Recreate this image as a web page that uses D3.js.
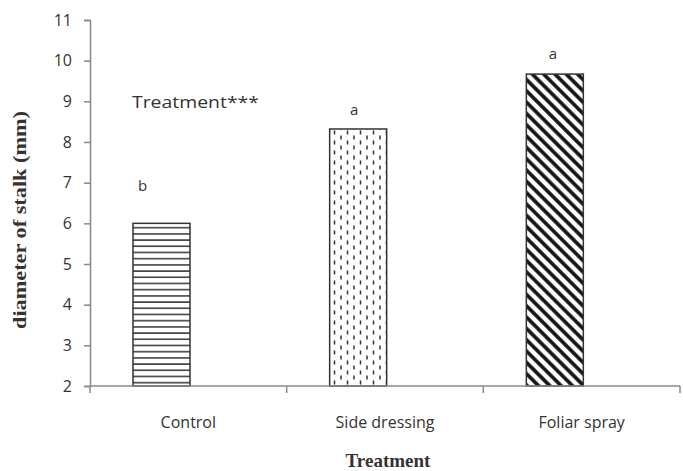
<!DOCTYPE html>
<html>
<head>
<meta charset="utf-8">
<script src="https://cdn.jsdelivr.net/npm/d3@7"></script>
<style>
  body { margin: 0; background: #fff; }
  text { fill: #333; }
</style>
</head>
<body>
<svg id="chart" width="683" height="471"></svg>
<script>
// Chart data
const treatments = ["Control", "Side dressing", "Foliar spray"];
const diameters = [6.0, 8.32, 9.67];
const groupLetters = ["b", "a", "a"];
const yTicks = [2, 3, 4, 5, 6, 7, 8, 9, 10, 11];

const svg = d3.select("#chart");

// Scales
const x = d3.scaleBand().domain(treatments).range([90, 680]).paddingInner(0).paddingOuter(0);
const y = d3.scaleLinear().domain([2, 11]).range([386, 20]);

// Fill patterns, one for each bar
const defs = svg.append("defs");

let p1 = defs.append("pattern").attr("id", "hlines")
	.attr("patternUnits", "userSpaceOnUse").attr("width", 8).attr("height", 6.2);
p1.append("rect").attr("width", 8).attr("height", 6.2).attr("fill", "#fff");
p1.append("line").attr("x1", 0).attr("x2", 8).attr("y1", 4.5).attr("y2", 4.5)
	.attr("stroke", "#333").attr("stroke-width", 1.5);

let p2 = defs.append("pattern").attr("id", "dashes")
	.attr("patternUnits", "userSpaceOnUse").attr("width", 13).attr("height", 10)
	.attr("x", 331);
p2.append("rect").attr("width", 13).attr("height", 10).attr("fill", "#fff");
p2.append("line").attr("x1", 3.5).attr("x2", 3.5).attr("y1", 0.5).attr("y2", 4.5)
	.attr("stroke", "#333").attr("stroke-width", 1.5);
p2.append("line").attr("x1", 10).attr("x2", 10).attr("y1", 5.5).attr("y2", 9.5)
	.attr("stroke", "#333").attr("stroke-width", 1.5);

let p3 = defs.append("pattern").attr("id", "diag")
	.attr("patternUnits", "userSpaceOnUse").attr("width", 8).attr("height", 8)
	.attr("patternTransform", "rotate(-45)");
p3.append("rect").attr("width", 8).attr("height", 8).attr("fill", "#fff");
p3.append("line").attr("x1", 4).attr("x2", 4).attr("y1", 0).attr("y2", 8)
	.attr("stroke", "#111").attr("stroke-width", 3.6);

const fills = ["url(#hlines)", "url(#dashes)", "url(#diag)"];

// Bars (shifted left inside their category, as in the original)
const barW = 57;
const barOffset = 43;
svg.selectAll("rect.bar").data(treatments).join("rect")
	.attr("class", "bar")
	.attr("x", d => x(d) + barOffset)
	.attr("width", barW)
	.attr("y", (d, i) => y(diameters[i]))
	.attr("height", (d, i) => y(2) - y(diameters[i]))
	.attr("fill", (d, i) => fills[i])
	.attr("stroke", "#333")
	.attr("stroke-width", 1.5);

// Significance letters above bars
const letterDx = [-19, -4, -2];
const letterDy = [-32, -14, -15];
svg.selectAll("text.letter").data(treatments).join("text")
	.attr("class", "letter")
	.attr("x", (d, i) => x(d) + barOffset + barW / 2 + letterDx[i])
	.attr("y", (d, i) => y(diameters[i]) + letterDy[i])
	.attr("text-anchor", "middle")
	.style("font-family", "'Open Sans', sans-serif")
	.style("font-size", "15px")
	.text((d, i) => groupLetters[i]);

// Y axis
const yAxis = svg.append("g").attr("transform", "translate(90,0)")
	.call(d3.axisLeft(y).tickValues(yTicks).tickSize(6).tickPadding(12));
yAxis.select(".domain").attr("stroke", "#888").attr("stroke-width", 1.5);
yAxis.selectAll(".tick line").attr("stroke", "#888").attr("stroke-width", 1.5);
yAxis.selectAll(".tick text")
	.style("font-family", "'Open Sans', sans-serif")
	.style("font-size", "16px")
	.attr("fill", "#333");

// X axis, ticks sit between categories
const xAxis = svg.append("g").attr("transform", "translate(0,386)");
xAxis.append("line").attr("x1", 90).attr("x2", 680).attr("y1", 0).attr("y2", 0)
	.attr("stroke", "#888").attr("stroke-width", 1.5);
const bounds = treatments.map(d => x(d)).concat([x.range()[1]]);
xAxis.selectAll("line.tick").data(bounds).join("line")
	.attr("class", "tick")
	.attr("x1", d => d).attr("x2", d => d)
	.attr("y1", 0).attr("y2", 7)
	.attr("stroke", "#888").attr("stroke-width", 1.5);
xAxis.selectAll("text.cat").data(treatments).join("text")
	.attr("class", "cat")
	.attr("x", d => x(d) + x.bandwidth() / 2)
	.attr("y", 42)
	.attr("text-anchor", "middle")
	.style("font-family", "'Open Sans', sans-serif")
	.style("font-size", "16px")
	.text(d => d);

// Axis titles
svg.append("text")
	.attr("x", 388).attr("y", 467)
	.attr("text-anchor", "middle")
	.style("font-family", "'Liberation Serif', serif")
	.style("font-weight", "bold")
	.style("font-size", "19px")
	.attr("fill", "#222")
	.text("Treatment");

svg.append("text")
	.attr("transform", "translate(26,220) rotate(-90)")
	.attr("text-anchor", "middle")
	.attr("textLength", 218)
	.attr("lengthAdjust", "spacingAndGlyphs")
	.style("font-family", "'Liberation Serif', serif")
	.style("font-weight", "bold")
	.style("font-size", "18px")
	.attr("fill", "#222")
	.text("diameter of stalk (mm)");

// Significance note
svg.append("text")
	.attr("x", 132).attr("y", 108)
	.attr("textLength", 127)
	.attr("lengthAdjust", "spacingAndGlyphs")
	.style("font-family", "'Open Sans', sans-serif")
	.style("font-size", "17px")
	.text("Treatment***");
</script>
</body>
</html>
